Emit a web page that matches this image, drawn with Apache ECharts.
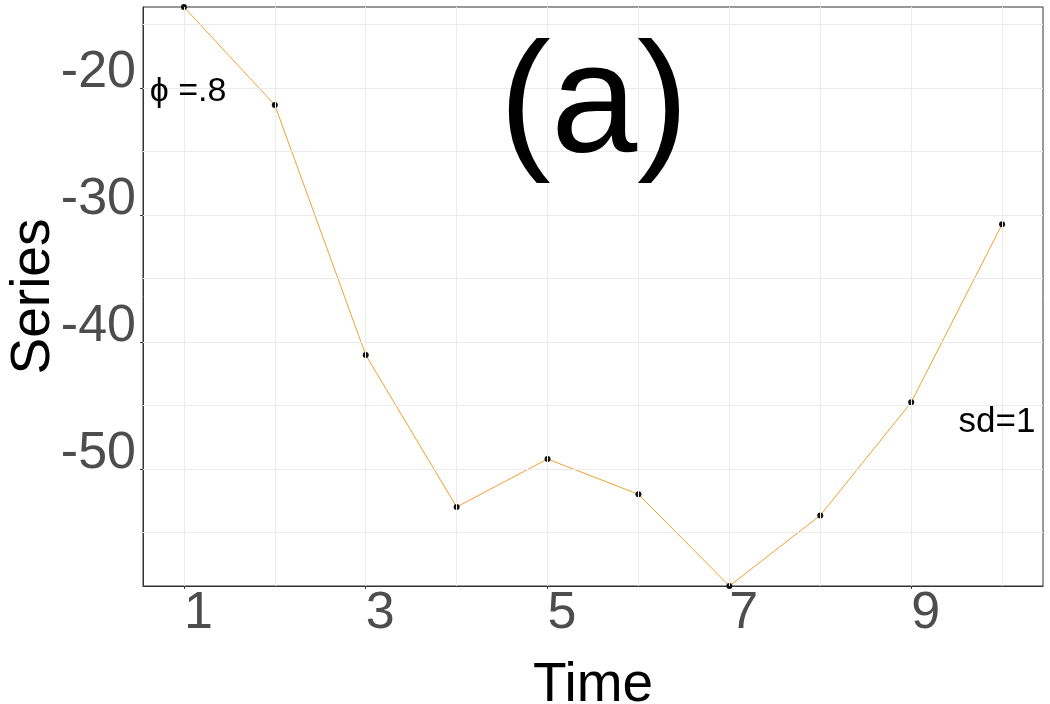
<!DOCTYPE html>
<html lang="en">
  <head>
    <meta charset="UTF-8" />
    <title>Series (a)</title>
    <style>
      html, body { margin: 0; padding: 0; background: #fff; }
      #main { width: 1050px; height: 704px; }
    </style>
    <script src="https://cdn.jsdelivr.net/npm/echarts@6/dist/echarts.min.js"></script>
  </head>
  <body>
    <div id="main"></div>
    <script>
      // values
      const timePoints = [1, 2, 3, 4, 5, 6, 7, 8, 9, 10]
      const seriesValues = [-13.62, -21.34, -41.02, -52.99, -49.21, -51.99, -59.21, -53.65, -44.75, -30.73]
      const xTickLabels = [1, 3, 5, 7, 9]
      const yTickLabels = [-50, -40, -30, -20]
      const xGridValues = [1, 2, 3, 4, 5, 6, 7, 8, 9, 10]
      const yGridValues = [-55, -50, -45, -40, -35, -30, -25, -20, -15]

      const FONT = 'Liberation Sans, Arial, sans-serif'

      // ggplot style: x expanded by 5%, y fitted to the data
      const xSpan = timePoints[timePoints.length - 1] - timePoints[0]
      const xMin = timePoints[0] - 0.05 * xSpan
      const xMax = timePoints[timePoints.length - 1] + 0.05 * xSpan
      const yMin = Math.min(...seriesValues)
      const yMax = Math.max(...seriesValues)

      const chart = echarts.init(document.getElementById('main'))

      const gridLine = { color: '#ebebeb', width: 1, type: 'solid' }

      const option = {
        backgroundColor: '#ffffff',
        animation: false,
        grid: {
          left: 143, right: 7, top: 7, bottom: 118,
          containLabel: false,
          outerBoundsMode: 'none',
          show: true, borderColor: '#333333', borderWidth: 1
        },
        xAxis: {
          type: 'value',
          min: xMin,
          max: xMax,
          name: 'Time',
          nameLocation: 'middle',
          nameGap: 72,
          nameMoveOverlap: false,
          nameTextStyle: { fontFamily: FONT, fontSize: 55, color: '#000', lineHeight: 55 },
          axisLine: { show: true, lineStyle: { color: '#333333', width: 1 } },
          axisTick: { show: true, length: 3, customValues: xTickLabels, lineStyle: { color: '#333333' } },
          axisLabel: {
            customValues: xTickLabels,
            fontFamily: FONT,
            fontSize: 52,
            color: '#4d4d4d',
            align: 'left',
            margin: 3,
            lineHeight: 50
          },
          splitLine: { show: false }
        },
        yAxis: {
          type: 'value',
          min: yMin,
          max: yMax,
          name: 'Series',
          nameLocation: 'middle',
          nameGap: 82,
          nameMoveOverlap: false,
          nameTextStyle: { fontFamily: FONT, fontSize: 55, color: '#000', lineHeight: 55 },
          axisLine: { show: true, lineStyle: { color: '#333333', width: 1 } },
          axisTick: { show: true, length: 3, customValues: yTickLabels, lineStyle: { color: '#333333' } },
          axisLabel: {
            customValues: yTickLabels,
            fontFamily: FONT,
            fontSize: 52,
            color: '#4d4d4d',
            verticalAlign: 'bottom',
            lineHeight: 30,
            margin: 7
          },
          splitLine: { show: false }
        },
        graphic: [
          {
            type: 'text',
            z: 10,
            style: { text: '(a)', x: 594, y: 108, fontFamily: FONT, fontSize: 155, fill: '#000', align: 'center', verticalAlign: 'middle' }
          },
          {
            type: 'text',
            z: 10,
            style: { text: 'ϕ =.8', x: 188, y: 92, fontFamily: FONT, fontSize: 34, fill: '#000', align: 'center', verticalAlign: 'middle' }
          },
          {
            type: 'text',
            z: 10,
            style: { text: 'sd=1', x: 997, y: 422, fontFamily: FONT, fontSize: 35, fill: '#000', align: 'center', verticalAlign: 'middle' }
          }
        ],
        series: [
          {
            // panel grid lines
            type: 'line',
            data: [],
            z: 1,
            silent: true,
            markLine: {
              silent: true,
              symbol: 'none',
              label: { show: false },
              lineStyle: gridLine,
              data: xGridValues.map(v => ({ xAxis: v })).concat(yGridValues.map(v => ({ yAxis: v })))
            }
          },
          {
            type: 'line',
            z: 3,
            data: timePoints.map((t, i) => [t, seriesValues[i]]),
            symbol: 'circle',
            symbolSize: 6,
            showSymbol: true,
            clip: true,
            lineStyle: { color: '#f0a030', width: 1 },
            itemStyle: { color: '#111111' }
          }
        ]
      }

      chart.setOption(option)
    </script>
  </body>
</html>
